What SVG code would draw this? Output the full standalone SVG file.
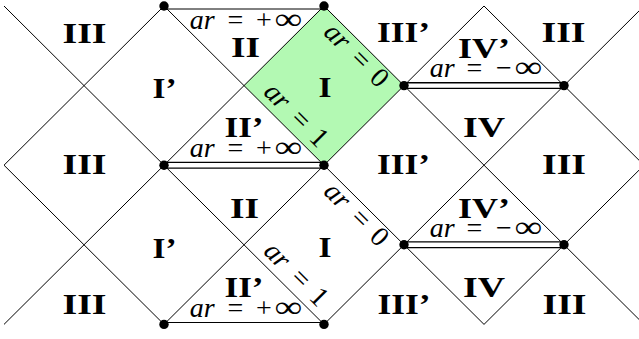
<svg xmlns="http://www.w3.org/2000/svg" width="639" height="339" viewBox="0 0 639 339">
<style>
.ln{stroke:#000;stroke-width:1;fill:none}
.dblo{stroke:#000;stroke-width:7}
.dbli{stroke:#fff;stroke-width:4.4}
.dot{fill:#000}
.rn{font-family:"Liberation Serif",serif;font-weight:bold;font-size:30px}
.m{font-family:"Liberation Serif",serif;font-size:28px;text-anchor:middle}
.it{font-style:italic}
.inf{font-family:"Liberation Serif",serif;font-size:30px;text-anchor:middle}
</style>
<rect width="639" height="339" fill="#fff"/>
<g id="region-I-green">
<polygon points="324,6 404,85.6 324,165.2 244,85.6" fill="#b3f9b3"/>
</g>
<g id="connectors">
<line class="ln" x1="4" y1="6" x2="324" y2="324.4"/>
<line class="ln" x1="4" y1="165.2" x2="164" y2="324.4"/>
<line class="ln" x1="164" y1="6" x2="484" y2="324.4"/>
<line class="ln" x1="324" y1="6" x2="644" y2="324.4"/>
<line class="ln" x1="484" y1="6" x2="644" y2="165.2"/>
<line class="ln" x1="164" y1="6" x2="4" y2="165.2"/>
<line class="ln" x1="324" y1="6" x2="4" y2="324.4"/>
<line class="ln" x1="484" y1="6" x2="164" y2="324.4"/>
<line class="ln" x1="644" y1="6" x2="324" y2="324.4"/>
<line class="ln" x1="644" y1="165.2" x2="484" y2="324.4"/>
<line class="ln" x1="164" y1="9" x2="324" y2="9"/>
<line class="ln" x1="164" y1="322.5" x2="324" y2="322.5"/>
<line class="dblo" x1="164" y1="165.2" x2="324" y2="165.2"/>
<line class="dbli" x1="164" y1="165.2" x2="324" y2="165.2"/>
<line class="dblo" x1="404" y1="85.6" x2="564" y2="85.6"/>
<line class="dbli" x1="404" y1="85.6" x2="564" y2="85.6"/>
<line class="dblo" x1="404" y1="244.8" x2="564" y2="244.8"/>
<line class="dbli" x1="404" y1="244.8" x2="564" y2="244.8"/>
</g>
<g id="points">
<circle class="dot" cx="164" cy="6" r="4.7"/>
<circle class="dot" cx="324" cy="6" r="4.7"/>
<circle class="dot" cx="164" cy="165.2" r="4.7"/>
<circle class="dot" cx="324" cy="165.2" r="4.7"/>
<circle class="dot" cx="164" cy="324.4" r="4.7"/>
<circle class="dot" cx="324" cy="324.4" r="4.7"/>
<circle class="dot" cx="404" cy="85.6" r="4.7"/>
<circle class="dot" cx="564" cy="85.6" r="4.7"/>
<circle class="dot" cx="404" cy="244.8" r="4.7"/>
<circle class="dot" cx="564" cy="244.8" r="4.7"/>
</g>
<g id="regions">
<g id="r-III-1"><text class="rn" x="62.5" y="43" textLength="44" lengthAdjust="spacingAndGlyphs">III</text></g>
<g id="r-III-2"><text class="rn" x="62.5" y="174" textLength="44" lengthAdjust="spacingAndGlyphs">III</text></g>
<g id="r-III-3"><text class="rn" x="62.5" y="313.5" textLength="44" lengthAdjust="spacingAndGlyphs">III</text></g>
<g id="r-Ip-1"><text class="rn" x="152.5" y="98" textLength="24" lengthAdjust="spacingAndGlyphs">I’</text></g>
<g id="r-Ip-2"><text class="rn" x="152.5" y="258" textLength="24" lengthAdjust="spacingAndGlyphs">I’</text></g>
<g id="r-II-1"><text class="rn" x="231" y="57" textLength="29" lengthAdjust="spacingAndGlyphs">II</text></g>
<g id="r-IIp-1"><text class="rn" x="224.5" y="136.7" textLength="39" lengthAdjust="spacingAndGlyphs">II’</text></g>
<g id="r-II-2"><text class="rn" x="230" y="218" textLength="29" lengthAdjust="spacingAndGlyphs">II</text></g>
<g id="r-IIp-2"><text class="rn" x="224.5" y="297" textLength="39" lengthAdjust="spacingAndGlyphs">II’</text></g>
<g id="r-I-1"><text class="rn" x="318.5" y="97" textLength="13" lengthAdjust="spacingAndGlyphs">I</text></g>
<g id="r-I-2"><text class="rn" x="318.5" y="257" textLength="13" lengthAdjust="spacingAndGlyphs">I</text></g>
<g id="r-IIIp-1"><text class="rn" x="377" y="41.7" textLength="53" lengthAdjust="spacingAndGlyphs">III’</text></g>
<g id="r-IIIp-2"><text class="rn" x="377" y="174" textLength="53" lengthAdjust="spacingAndGlyphs">III’</text></g>
<g id="r-IIIp-3"><text class="rn" x="377.5" y="314" textLength="53" lengthAdjust="spacingAndGlyphs">III’</text></g>
<g id="r-IVp-1"><text class="rn" x="458" y="58" textLength="52" lengthAdjust="spacingAndGlyphs">IV’</text></g>
<g id="r-IVp-2"><text class="rn" x="458" y="218" textLength="52" lengthAdjust="spacingAndGlyphs">IV’</text></g>
<g id="r-IV-1"><text class="rn" x="463" y="137" textLength="42" lengthAdjust="spacingAndGlyphs">IV</text></g>
<g id="r-IV-2"><text class="rn" x="463" y="297" textLength="42" lengthAdjust="spacingAndGlyphs">IV</text></g>
<g id="r-III-4"><text class="rn" x="541.5" y="41.7" textLength="44" lengthAdjust="spacingAndGlyphs">III</text></g>
<g id="r-III-5"><text class="rn" x="542" y="174" textLength="44" lengthAdjust="spacingAndGlyphs">III</text></g>
<g id="r-III-6"><text class="rn" x="542.5" y="314" textLength="44" lengthAdjust="spacingAndGlyphs">III</text></g>
</g>
<g id="edge-labels">
<text class="m" y="29"><tspan class="it" x="202.3">ar</tspan><tspan x="235.3">=</tspan><tspan x="264">+</tspan></text>
<text class="inf" transform="translate(288.3,29) scale(1.3,1)">∞</text>
<text class="m" y="157"><tspan class="it" x="202.3">ar</tspan><tspan x="235.3">=</tspan><tspan x="264">+</tspan></text>
<text class="inf" transform="translate(288.3,157) scale(1.3,1)">∞</text>
<text class="m" y="317"><tspan class="it" x="202.3">ar</tspan><tspan x="235.3">=</tspan><tspan x="264">+</tspan></text>
<text class="inf" transform="translate(288.3,317) scale(1.3,1)">∞</text>
<text class="m" y="77"><tspan class="it" x="442.3">ar</tspan><tspan x="474.5">=</tspan><tspan x="504">−</tspan></text>
<text class="inf" transform="translate(528.3,77) scale(1.3,1)">∞</text>
<text class="m" y="237"><tspan class="it" x="442.3">ar</tspan><tspan x="474.5">=</tspan><tspan x="504">−</tspan></text>
<text class="inf" transform="translate(528.3,237) scale(1.3,1)">∞</text>
<text class="m" transform="translate(349.4,60.4) rotate(45)"><tspan class="it" x="-25.5">ar</tspan><tspan x="7.5">=</tspan><tspan x="33.5">0</tspan></text>
<text class="m" transform="translate(349.4,219.6) rotate(45)"><tspan class="it" x="-25.5">ar</tspan><tspan x="7.5">=</tspan><tspan x="33.5">0</tspan></text>
<text class="m" transform="translate(289.3,120.2) rotate(45)"><tspan class="it" x="-25.5">ar</tspan><tspan x="7.5">=</tspan><tspan x="33.5">1</tspan></text>
<text class="m" transform="translate(289.3,279.4) rotate(45)"><tspan class="it" x="-25.5">ar</tspan><tspan x="7.5">=</tspan><tspan x="33.5">1</tspan></text>
</g>
</svg>
